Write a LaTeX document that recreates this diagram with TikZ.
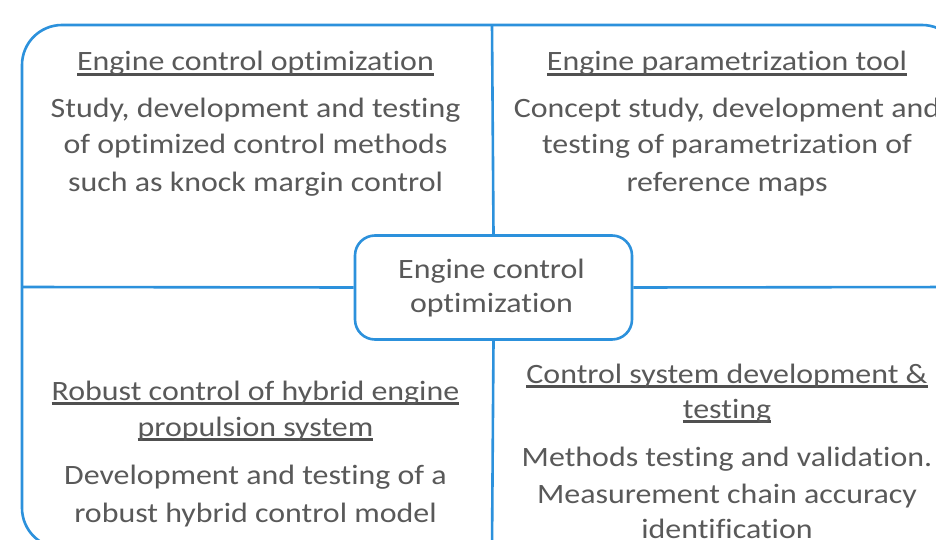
\documentclass[tikz,border=0pt]{standalone}
\usepackage{fontspec}
\setmainfont[FakeStretch=1.14,RawFeature=-liga]{Carlito}
\definecolor{frameblue}{RGB}{44,145,220}
\definecolor{textgray}{RGB}{89,89,89}
\definecolor{ulgray}{RGB}{80,80,80}
\newcommand\myul[1]{\setbox0=\hbox{#1}\rlap{\color{ulgray}\rule[-4.6pt]{\wd0}{2.2pt}}\box0}
\tikzset{
  frame/.style={draw=frameblue, line width=2.6pt},
  centerbox/.style={draw=frameblue, line width=2.6pt, fill=white, rounded corners=20pt,
    minimum width=277pt, minimum height=104pt, inner sep=0pt},
  txt/.style={font=\fontsize{28}{36}\selectfont, text=textgray, inner sep=0pt, anchor=base}
}
\begin{document}
\begin{tikzpicture}[x=1pt,y=-1pt]
\useasboundingbox (0,0) rectangle (936,540);
\clip (0,0) rectangle (936,540);
\fill[white] (0,0) rectangle (936,540);
\draw[frame, rounded corners=40pt] (22,25) rectangle (962,548);
\coordinate (vt) at (492,25);
\coordinate (vb) at (492,548);
\coordinate (hl) at (22,287);
\coordinate (hr) at (962,287);
\node[centerbox] (ctr) at (493.5,287.5) {};
\draw[frame] (vt) -- (ctr.north);
\draw[frame] (ctr.south) -- (vb);
\draw[frame] (hl) -- (ctr.west);
\draw[frame] (ctr.east) -- (hr);
% center text
\node[txt] (c1) at (491.5,278) {Engine control};
\node[txt] (c2) at (491.5,312) {optimization};
% top-left
\node[txt] (tl0) at (255.5,71) {\myul{Engine control optimization}};
\node[txt] (tl1) at (255.5,118) {Study, development and testing};
\node[txt] (tl2) at (255.5,154) {of optimized control methods};
\node[txt] (tl3) at (255.5,191) {such as knock margin control};
% top-right
\node[txt] (tr0) at (727,71) {\myul{Engine parametrization tool}};
\node[txt] (tr1) at (727,118) {Concept study, development and};
\node[txt] (tr2) at (727,154) {testing of parametrization of};
\node[txt] (tr3) at (727,191) {reference maps};
% bottom-left
\node[txt] (bl0) at (255.5,400) {\myul{Robust control of hybrid engine}};
\node[txt] (bl1) at (255.5,436) {\myul{propulsion system}};
\node[txt] (bl2) at (255.5,484) {Development and testing of a};
\node[txt] (bl3) at (255.5,522) {robust hybrid control model};
% bottom-right
\node[txt] (br0) at (727,383) {\myul{Control system development \&}};
\node[txt] (br1) at (727,418) {\myul{testing}};
\node[txt] (br2) at (727,466) {Methods testing and validation.};
\node[txt] (br3) at (727,503) {Measurement chain accuracy};
\node[txt] (br4) at (727,538) {identification};
\end{tikzpicture}
\end{document}
